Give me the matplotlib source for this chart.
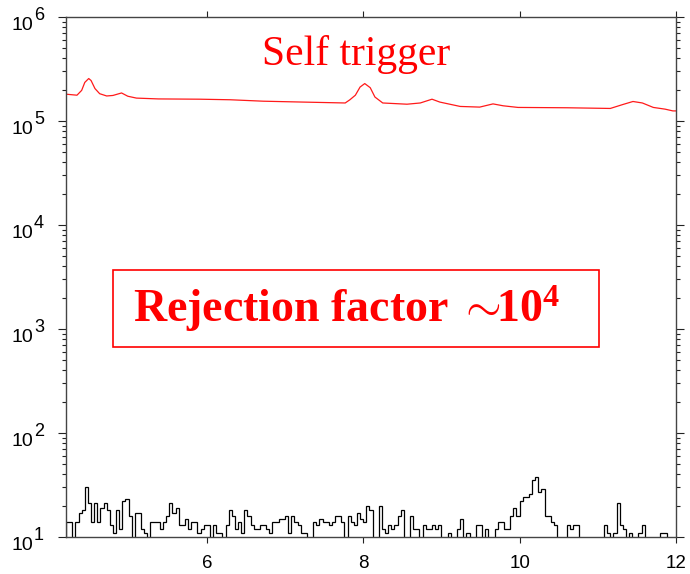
import numpy as np
import matplotlib
matplotlib.use("Agg")
import matplotlib.pyplot as plt
from matplotlib.patches import Rectangle
from matplotlib.ticker import FixedLocator, LogLocator, NullFormatter

plt.rcParams['font.family'] = ['Liberation Sans', 'DejaVu Sans']
# serif bold for the math part of the annotation
plt.rcParams['mathtext.fontset'] = 'custom'
plt.rcParams['mathtext.rm'] = 'Liberation Serif:bold'
plt.rcParams['mathtext.it'] = 'Liberation Serif:bold'
plt.rcParams['mathtext.bf'] = 'Liberation Serif:bold'

# self trigger rate (red curve)
self_x = [4.20, 4.34, 4.40, 4.44, 4.49, 4.52, 4.57, 4.63, 4.72, 4.80, 4.91, 4.99,
          5.10, 5.38, 5.91, 6.30, 6.72, 7.23, 7.77, 7.83, 7.90, 7.96, 8.02, 8.09,
          8.15, 8.25, 8.56, 8.73, 8.88, 8.98, 9.24, 9.49, 9.66, 9.79, 9.98, 10.61,
          11.16, 11.32, 11.45, 11.57, 11.71, 11.86, 11.96, 12.0]
self_rate = [1.81e5, 1.77e5, 1.97e5, 2.35e5, 2.56e5, 2.45e5, 2.05e5, 1.83e5, 1.74e5,
             1.76e5, 1.86e5, 1.73e5, 1.66e5, 1.63e5, 1.62e5, 1.60e5, 1.55e5, 1.52e5,
             1.49e5, 1.60e5, 1.77e5, 2.12e5, 2.29e5, 2.09e5, 1.70e5, 1.49e5, 1.45e5,
             1.49e5, 1.62e5, 1.52e5, 1.38e5, 1.36e5, 1.46e5, 1.40e5, 1.35e5, 1.34e5,
             1.32e5, 1.44e5, 1.54e5, 1.49e5, 1.35e5, 1.30e5, 1.25e5, 1.25e5]

# coincidence histogram (black), fixed 0.04 bins starting at 4.2
bin_start = 4.2
bin_width = 0.04
coinc_counts = [
    14, 14, 0, 14, 17, 18, 30, 21, 14, 21, 14, 19, 21, 18, 13, 11, 18, 12, 22, 23,
    16, 0, 17, 17, 12, 11, 0, 14, 14, 14, 12, 14, 16, 21, 17, 19, 13, 13,
    15, 12, 14, 14, 11, 12, 13, 13, 0, 13, 11, 11, 0, 13, 18, 16, 12, 14, 11, 18,
    16, 13, 12, 12, 13, 13, 12, 11, 14, 14, 15, 15, 16, 11, 16, 14, 13, 11, 11,
    0, 0, 14, 13, 15, 14, 14, 13, 14, 16, 16, 14, 0, 16, 14, 13, 17, 15, 14, 20,
    18, 0, 0, 20, 12, 11, 13, 12, 13, 16, 18, 0, 0, 16, 12, 12, 0, 13, 12, 12,
    13, 12, 13, 0, 0, 11, 0, 0, 12, 15, 0, 11, 0, 0, 13, 13, 0, 12, 0, 0,
    12, 14, 14, 12, 12, 16, 19, 16, 22, 24, 24, 26, 35, 38, 27, 29, 16, 16, 14,
    13, 0, 0, 0, 13, 12, 13, 13, 0, 0, 0, 0, 0, 0, 0, 0, 13, 11, 0, 11,
    21, 13, 12, 0, 11, 0, 0, 11, 13, 0, 0, 0, 0, 0, 11, 11, 0, 0, 0]

x_ticks = [6, 8, 10, 12]
decades = [1, 2, 3, 4, 5, 6]

fig = plt.figure(figsize=(6.9, 5.74), dpi=100)
ax = fig.add_axes([0.0957, 0.0645, 0.884, 0.9059])

ax.plot(self_x, self_rate, color='#ff1a1a', lw=0.9)

counts = np.array(coinc_counts, dtype=float)
edges = bin_start + bin_width * np.arange(len(counts) + 1)
# empty bins sit below the axis floor
ax.stairs(np.clip(counts, 1, None), edges, baseline=1, color='black', lw=0.9)

ax.set_yscale('log')
ax.set_xlim(4.2, 12)
ax.set_ylim(10, 1e6)

for s in ax.spines.values():
    s.set_color('#444444')
    s.set_linewidth(1.0)

ax.xaxis.set_major_locator(FixedLocator(x_ticks))
ax.tick_params(axis='x', which='major', direction='out', top=True, bottom=True,
               length=4.3, width=0.8, color='#222222', pad=9, labelsize=13.5)
ax.yaxis.set_major_locator(LogLocator(base=10))
ax.yaxis.set_minor_locator(LogLocator(base=10, subs=np.arange(2, 10)))
ax.yaxis.set_major_formatter(NullFormatter())
ax.yaxis.set_minor_formatter(NullFormatter())
ax.tick_params(axis='y', which='major', direction='out', left=True, right=True,
               length=5.5, width=0.8, color='#222222')
ax.tick_params(axis='y', which='minor', direction='out', left=True, right=True,
               length=3.0, width=0.8, color='#222222')

# decade labels drawn as 10 plus a large raised exponent
for e in decades:
    ax.annotate("10", xy=(0, 10.0 ** e), xycoords=('axes fraction', 'data'),
                xytext=(-23.8, -5.8), textcoords='offset points',
                ha='right', va='center', fontsize=14)
    ax.annotate(str(e), xy=(0, 10.0 ** e), xycoords=('axes fraction', 'data'),
                xytext=(-23.0, 1.4), textcoords='offset points',
                ha='left', va='center', fontsize=13)

fig.text(356 / 690, 1 - 65 / 574, "Self trigger", color='red',
         family='Liberation Serif', fontsize=30, ha='center', va='baseline')

fig.patches.append(Rectangle((112.7 / 690, 1 - 347 / 574), 486.3 / 690, 77 / 574,
                             transform=fig.transFigure, fill=False,
                             edgecolor='red', lw=1.2))
fig.text(133 / 690, 1 - 322 / 574, r"Rejection factor$\;{\sim}\!\!\mathbf{10^4}$",
         color='red', family='Liberation Serif', weight='bold', fontsize=33,
         ha='left', va='baseline')

fig.savefig("out.png", dpi=100)
